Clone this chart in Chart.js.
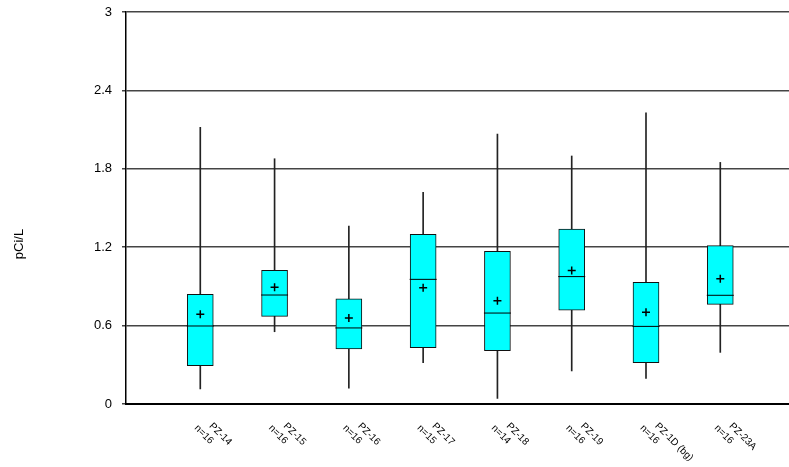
<!DOCTYPE html>
<html>
<head>
<meta charset="utf-8">
<script src="https://cdn.jsdelivr.net/npm/chart.js@4.4.1/dist/chart.umd.min.js"></script>
<style>
  html, body { margin: 0; padding: 0; background: #fff; }
  #wrap { width: 789px; height: 467px; position: relative; }
</style>
</head>
<body>
<div id="wrap"><canvas id="c"></canvas></div>
<script>
const categories = ['PZ-14', 'PZ-15', 'PZ-16', 'PZ-17', 'PZ-18', 'PZ-19', 'PZ-1D (bg)', 'PZ-23A'];
const counts = ['n=16', 'n=16', 'n=16', 'n=15', 'n=14', 'n=16', 'n=16', 'n=16'];
const whiskerMin = [0.115, 0.553, 0.122, 0.316, 0.043, 0.253, 0.196, 0.395];
const q1 = [0.293, 0.671, 0.421, 0.431, 0.408, 0.719, 0.316, 0.763];
const median = [0.597, 0.834, 0.582, 0.954, 0.696, 0.975, 0.594, 0.832];
const q3 = [0.839, 1.023, 0.804, 1.298, 1.168, 1.339, 0.931, 1.212];
const whiskerMax = [2.118, 1.877, 1.362, 1.620, 2.066, 1.898, 2.229, 1.849];
const mean = [0.686, 0.893, 0.658, 0.890, 0.791, 1.022, 0.702, 0.959];
const yTicks = [0, 0.6, 1.2, 1.8, 2.4, 3];
const yTitle = 'pCi/L';

const FONT = "'Liberation Sans', Arial, sans-serif";
const pos = categories.map((_, i) => i + 1);

const labelPlugin = {
  id: 'customLabels',
  afterDraw(chart) {
    const ctx = chart.ctx;
    const xs = chart.scales.x;
    ctx.save();
    ctx.fillStyle = '#000';
    ctx.font = '10px ' + FONT;
    ctx.textBaseline = 'top';
    ctx.textAlign = 'left';
    categories.forEach((name, i) => {
      const px = xs.getPixelForValue(pos[i]);
      ctx.save();
      ctx.translate(px + 14, 421);
      ctx.rotate(Math.PI / 4);
      ctx.fillText(name, 0, 0);
      ctx.fillText(counts[i], -9, 12);
      ctx.restore();
    });
    // y axis title
    ctx.save();
    ctx.font = '13px ' + FONT;
    ctx.textAlign = 'center';
    ctx.textBaseline = 'middle';
    ctx.translate(19, 244);
    ctx.rotate(-Math.PI / 2);
    ctx.fillText(yTitle, 0, 0);
    ctx.restore();
    ctx.restore();
  }
};

new Chart(document.getElementById('c'), {
  type: 'bar',
  data: {
    datasets: [
      {
        type: 'scatter',
        label: 'mean',
        data: pos.map((x, i) => ({ x, y: mean[i] })),
        pointStyle: 'cross',
        pointRadius: 4,
        pointHoverRadius: 4,
        pointBorderColor: '#000',
        pointBorderWidth: 1.5,
        pointBackgroundColor: '#000',
        order: 0
      },
      {
        type: 'scatter',
        label: 'median',
        data: pos.map((x, i) => ({ x, y: median[i] })),
        pointStyle: 'line',
        pointRadius: 13.5,
        pointHoverRadius: 13.5,
        pointBorderColor: '#000',
        pointBorderWidth: 1,
        order: 1
      },
      {
        type: 'bar',
        label: 'box',
        data: pos.map((x, i) => ({ x, y: [q1[i], q3[i]] })),
        backgroundColor: '#00FFFF',
        borderColor: '#111',
        borderWidth: 1,
        borderSkipped: false,
        barThickness: 26,
        grouped: false,
        order: 2
      },
      {
        type: 'bar',
        label: 'whisker',
        data: pos.map((x, i) => ({ x, y: [whiskerMin[i], whiskerMax[i]] })),
        backgroundColor: '#222',
        borderWidth: 0,
        barThickness: 1,
        grouped: false,
        order: 3
      }
    ]
  },
  options: {
    responsive: true,
    maintainAspectRatio: false,
    animation: false,
    events: [],
    layout: { autoPadding: false, padding: { top: 12, left: 0, right: 0, bottom: 0 } },
    plugins: { legend: { display: false }, tooltip: { enabled: false }, title: { display: false } },
    scales: {
      x: {
        type: 'linear',
        min: 0,
        max: 8.925,
        offset: false,
        grid: { display: false, offset: false },
        border: { display: true, color: '#000', width: 2 },
        ticks: { display: false },
        afterFit(s) { s.height = 63; s.paddingLeft = 0; s.paddingRight = 0; }
      },
      y: {
        type: 'linear',
        min: 0,
        max: 3,
        afterBuildTicks(s) { s.ticks = yTicks.map(v => ({ value: v })); },
        grid: { color: '#444', lineWidth: 1.5, tickLength: 4, drawTicks: true },
        border: { display: true, color: '#000', width: 1.5 },
        ticks: {
          color: '#000',
          padding: 10,
          font: { family: FONT, size: 13 },
          callback: v => String(v)
        },
        afterFit(s) { s.width = 126; s.paddingTop = 0; s.paddingBottom = 0; }
      }
    }
  },
  plugins: [labelPlugin]
});
</script>
</body>
</html>
